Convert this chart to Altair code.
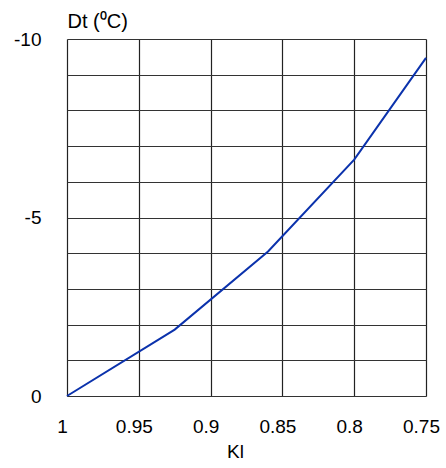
import altair as alt
import pandas as pd

# Temperature change Dt versus coefficient Kl
kl = [1.0, 0.925, 0.86, 0.80, 0.75]
dt = [0.0, -1.86, -4.05, -6.62, -9.47]

x_ticks = [1.0, 0.95, 0.9, 0.85, 0.8, 0.75]
y_grid = [0, -1, -2, -3, -4, -5, -6, -7, -8, -9, -10]

df = pd.DataFrame({"Kl": kl, "Dt": dt})

FONT = "Liberation Sans"

line = alt.Chart(df).mark_line(color="#0b32ac", strokeWidth=2).encode(
    x=alt.X(
        "Kl:Q",
        scale=alt.Scale(domain=[0.75, 1.0], reverse=True, nice=False, zero=False),
        axis=alt.Axis(
            values=x_ticks,
            labelExpr="toString(datum.value)",
            title="Kl",
            titleFont=FONT,
            titleFontSize=19,
            titleFontWeight="normal",
            titleColor="black",
            titlePadding=6,
            titleX=168,
            labelFont=FONT,
            labelFontSize=19,
            labelColor="black",
            labelPadding=21,
            labelBaseline="top",
            labelOffset=-5,
            labelFlush=False,
            ticks=False,
            domain=False,
            grid=True,
            gridColor="#222",
            gridWidth=1.2,
        ),
    ),
    y=alt.Y(
        "Dt:Q",
        scale=alt.Scale(domain=[-10, 0], reverse=True, nice=False),
        axis=alt.Axis(
            values=y_grid,
            labelExpr="datum.value % 5 == 0 ? toString(datum.value) : ''",
            title="Dt (\u2070C)",
            titleFont=FONT,
            titleFontSize=20,
            titleFontWeight="normal",
            titleColor="black",
            titleAngle=0,
            titleAlign="left",
            titleBaseline="alphabetic",
            titleX=0,
            titleY=-12,
            labelFont=FONT,
            labelFontSize=19,
            labelColor="black",
            labelPadding=26,
            labelFlush=False,
            ticks=False,
            domain=False,
            grid=True,
            gridColor="#333",
            gridWidth=1.2,
        ),
    ),
)

chart = line.properties(
    width=359,
    height=357,
    padding={"left": 67, "top": 39, "right": 20, "bottom": 72},
    autosize="none",
).configure_view(stroke="black", strokeWidth=3).configure(background="white")

chart.save("out.html", embed_options={"renderer": "svg", "actions": False})
